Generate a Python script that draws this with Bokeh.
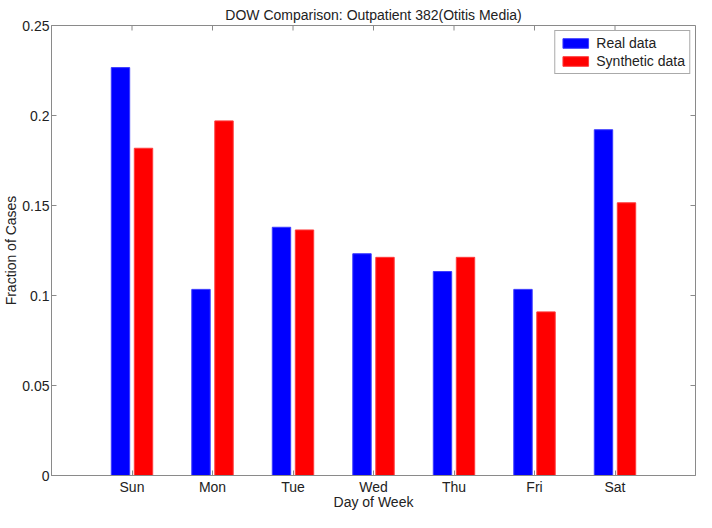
import math
from bokeh.plotting import figure
from bokeh.models import FixedTicker, Range1d, Legend, LegendItem, ColumnDataSource
from bokeh.transform import dodge
from bokeh.embed import file_html
from bokeh.resources import INLINE

days = ["Sun", "Mon", "Tue", "Wed", "Thu", "Fri", "Sat"]
day_pos = [1, 2, 3, 4, 5, 6, 7]
real_data = [0.2266, 0.1034, 0.1379, 0.1232, 0.1133, 0.1034, 0.1921]
synthetic_data = [0.1818, 0.1970, 0.1364, 0.1212, 0.1212, 0.0909, 0.1515]
y_ticks = [0, 0.05, 0.1, 0.15, 0.2, 0.25]
y_tick_labels = ["0", "0.05", "0.1", "0.15", "0.2", "0.25"]
x_limits = [0, 8]

FONT = "Liberation Sans"
AXIS_COLOR = "#8a8a8a"
TEXT_COLOR = "#222222"

src = ColumnDataSource(dict(pos=day_pos, real=real_data, synth=synthetic_data))

p = figure(width=696, height=512, x_range=Range1d(*x_limits),
           y_range=Range1d(y_ticks[0], y_ticks[-1]),
           output_backend="svg", toolbar_location=None,
           min_border_left=44, min_border_right=1, min_border_top=25, min_border_bottom=30,
           title="DOW Comparison: Outpatient 382(Otitis Media)")
p.title.align = "center"
p.title.text_font = FONT
p.title.text_font_style = "normal"
p.title.text_font_size = "14px"
p.title.text_color = TEXT_COLOR
p.title.standoff = 6
p.title.offset = 0

p.grid.visible = False
p.outline_line_color = AXIS_COLOR
p.background_fill_color = "white"

bw = 0.2286
off = 0.1429
r1 = p.vbar(x=dodge("pos", -off, range=p.x_range), top="real", width=bw, source=src,
            fill_color="#0000ff", line_color="#3b3bff", line_width=1)
r2 = p.vbar(x=dodge("pos", off, range=p.x_range), top="synth", width=bw, source=src,
            fill_color="#ff0000", line_color="#ff3b3b", line_width=1)

# tick marks on the top and right edges of the box (half of each dash is clipped away)
p.scatter(x=day_pos, y=[y_ticks[-1]] * len(day_pos), marker="dash", size=10,
          angle=math.pi / 2, line_color=AXIS_COLOR, line_width=1)
p.scatter(x=[x_limits[1]] * len(y_ticks), y=y_ticks, marker="dash", size=10,
          line_color=AXIS_COLOR, line_width=1)

xt = FixedTicker(ticks=day_pos, minor_ticks=[])
yt = FixedTicker(ticks=y_ticks, minor_ticks=[])

def style_axis(ax):
    ax.axis_line_color = AXIS_COLOR
    ax.major_tick_line_color = AXIS_COLOR
    ax.major_tick_in = 5
    ax.major_tick_out = 0
    ax.minor_tick_line_color = None
    ax.major_label_text_font = FONT
    ax.major_label_text_font_size = "14px"
    ax.major_label_text_color = TEXT_COLOR
    ax.axis_label_text_font = FONT
    ax.axis_label_text_font_size = "14px"
    ax.axis_label_text_font_style = "normal"
    ax.axis_label_text_color = TEXT_COLOR

xa = p.xaxis[0]
xa.ticker = xt
xa.major_label_overrides = {pos: d for pos, d in zip(day_pos, days)}
xa.axis_label = "Day of Week"
style_axis(xa)
xa.major_label_standoff = 3
xa.axis_label_standoff = -4

ya = p.yaxis[0]
ya.ticker = yt
ya.major_label_overrides = {t: l for t, l in zip(y_ticks, y_tick_labels)}
ya.axis_label = "Fraction of Cases"
style_axis(ya)
ya.major_label_standoff = 2
ya.axis_label_standoff = 0

legend = Legend(items=[LegendItem(label="Real data", renderers=[r1]),
                       LegendItem(label="Synthetic data", renderers=[r2])],
                location="top_right", orientation="vertical")
legend.label_text_font = FONT
legend.label_text_font_size = "14px"
legend.label_text_color = TEXT_COLOR
legend.glyph_width = 32
legend.glyph_height = 12
legend.label_height = 12
legend.label_standoff = 5
legend.spacing = 2
legend.padding = 4
legend.margin = 5
legend.border_line_color = "#555555"
legend.border_line_width = 1
legend.background_fill_color = "white"
legend.background_fill_alpha = 1
p.add_layout(legend)

open("out.html", "w").write(file_html(p, INLINE))
